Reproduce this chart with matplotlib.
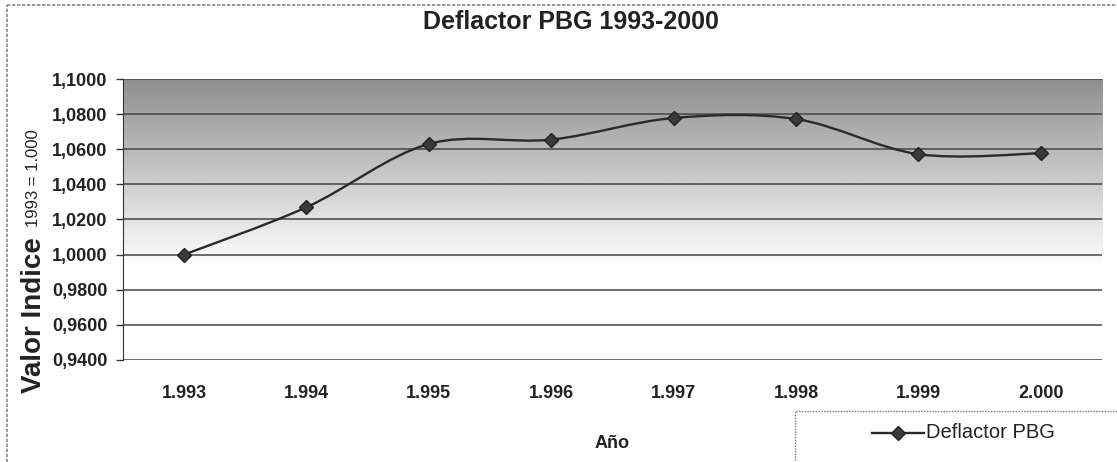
"""Deflactor PBG 1993-2000: smoothed line over a grey gradient plot area."""

import matplotlib

matplotlib.use("Agg")

import matplotlib.pyplot as plt  # noqa: E402
import numpy as np  # noqa: E402
from matplotlib.patches import PathPatch, Rectangle  # noqa: E402
from matplotlib.path import Path  # noqa: E402
from matplotlib.lines import Line2D  # noqa: E402

years = ["1.993", "1.994", "1.995", "1.996", "1.997", "1.998", "1.999", "2.000"]
deflactor = [1.0000, 1.0270, 1.0630, 1.0655, 1.0778, 1.0772, 1.0572, 1.0577]
y_ticks = [0.94, 0.96, 0.98, 1.00, 1.02, 1.04, 1.06, 1.08, 1.10]

plt.rcParams["font.family"] = ["Liberation Sans", "DejaVu Sans"]

fig = plt.figure(figsize=(11.17, 4.62), dpi=100)
ax = fig.add_axes([0.110, 0.2208, 0.8766, 0.6082])

n = len(years)
ax.set_xlim(-0.5, n - 0.5)
ax.set_ylim(y_ticks[0], y_ticks[-1])

# gradient fill: dark grey at the top fading to white around 1,0000
grad_y = np.linspace(y_ticks[-1], y_ticks[0], 300)
shade = np.clip(0.56 + (1.10 - grad_y) / (1.10 - 0.993) * 0.44, 0, 1)
img = np.repeat(shade[:, None], 2, axis=1)
ax.imshow(img, cmap="gray", vmin=0, vmax=1, aspect="auto",
          extent=(-0.5, n - 0.5, y_ticks[0], y_ticks[-1]), zorder=0,
          interpolation="bilinear")

for v in y_ticks:
    ax.axhline(v, color="#444444", lw=1.1, zorder=1)

# smoothed line (Catmull-Rom style, like Excel's "smoothed line")
xs = np.arange(n, dtype=float)
ys = np.asarray(deflactor)
verts = [(xs[0], ys[0])]
codes = [Path.MOVETO]
for i in range(n - 1):
    p0 = (xs[max(i - 1, 0)], ys[max(i - 1, 0)])
    p1 = (xs[i], ys[i])
    p2 = (xs[i + 1], ys[i + 1])
    p3 = (xs[min(i + 2, n - 1)], ys[min(i + 2, n - 1)])
    c1 = (p1[0] + (p2[0] - p0[0]) / 6, p1[1] + (p2[1] - p0[1]) / 6)
    c2 = (p2[0] - (p3[0] - p1[0]) / 6, p2[1] - (p3[1] - p1[1]) / 6)
    verts += [c1, c2, p2]
    codes += [Path.CURVE4] * 3
ax.add_patch(PathPatch(Path(verts, codes), fill=False, edgecolor="#2a2a2a",
                       lw=1.7, zorder=3))
ax.plot(xs, ys, ls="none", marker="D", ms=7, color="#3a3a3a",
        markeredgecolor="#222222", zorder=4)

ax.set_yticks(y_ticks)
ax.set_yticklabels([f"{v:.4f}".replace(".", ",") for v in y_ticks],
                   fontsize=13, fontweight="bold", color="#222222")
ax.set_xticks(xs)
ax.set_xticklabels(years, fontsize=13, fontweight="bold", color="#222222")
ax.tick_params(axis="x", length=0, pad=18)
ax.tick_params(axis="y", length=5, width=1, color="#333333", pad=6)

for side in ("top", "right", "bottom"):
    ax.spines[side].set_visible(False)
ax.spines["left"].set_color("#333333")
ax.spines["left"].set_linestyle((0, (1, 1)))

ax.set_xlabel("Año", fontsize=13, fontweight="bold", color="#222222",
              labelpad=24)

fig.text(0.511, 0.952, "Deflactor PBG 1993-2000", ha="center", va="center",
         fontsize=18, fontweight="bold", color="#222222")

fig.text(0.030, 0.149, "Valor Indice", rotation=90, ha="center",
         va="bottom", fontsize=20, fontweight="bold", color="#222222")
fig.text(0.030, 0.509, "1993 = 1.000", rotation=90, ha="center",
         va="bottom", fontsize=12, color="#222222")

# outer chart border (only top/left visible in the crop)
fig.add_artist(Line2D([0.0063, 0.0063], [0.0, 0.99], color="#888888",
                      lw=1.2, ls=(0, (2, 1))))
fig.add_artist(Line2D([0.0063, 1.0], [0.99, 0.99], color="#888888",
                      lw=1.2, ls=(0, (2, 1))))

# legend box, cut off at the bottom right edge
fig.add_artist(Rectangle((0.712, -0.02), 0.30, 0.13, transform=fig.transFigure,
                         facecolor="white", edgecolor="#777777", lw=1.0,
                         ls=(0, (1, 1))))
fig.add_artist(Line2D([0.781, 0.827], [0.063, 0.063], color="#2a2a2a",
                      lw=1.7))
fig.add_artist(Line2D([0.804], [0.063], color="#3a3a3a", marker="D", ms=7,
                      markeredgecolor="#222222", ls="none"))
fig.text(0.829, 0.063, "Deflactor PBG", ha="left", va="center",
         fontsize=14.5, color="#222222")

fig.savefig("out.png", dpi=100)
